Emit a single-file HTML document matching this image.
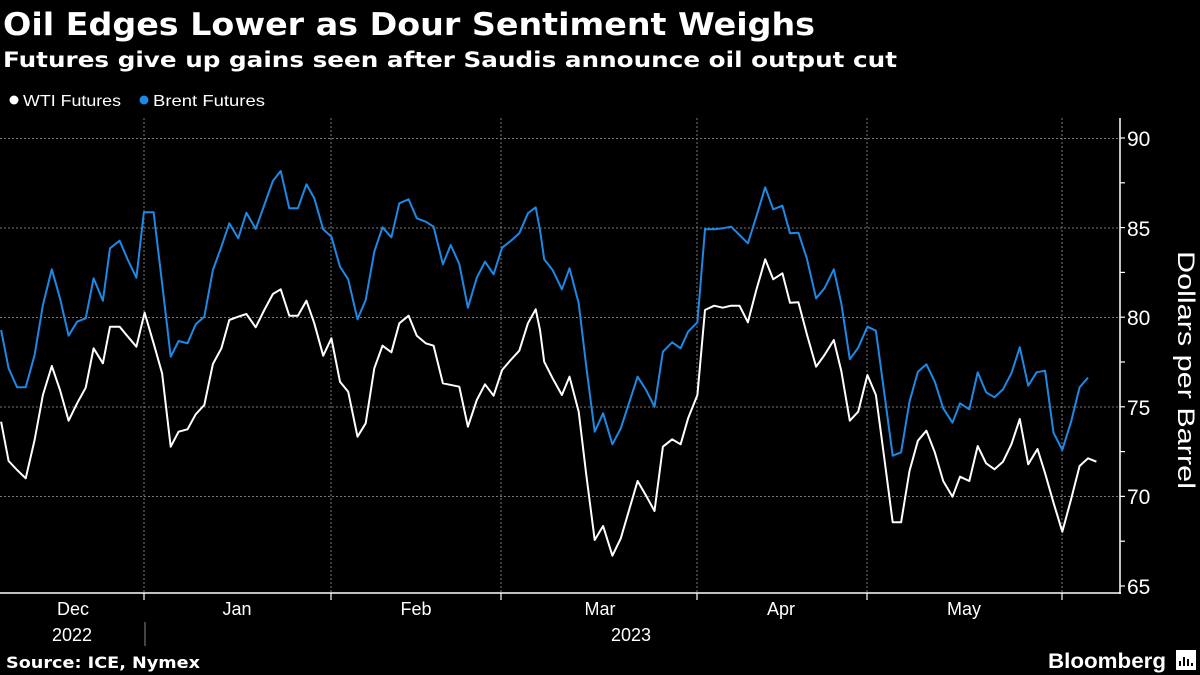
<!DOCTYPE html>
<html><head><meta charset="utf-8"><style>
body{margin:0;background:#000;width:1200px;height:675px;overflow:hidden;font-family:"Liberation Sans",sans-serif;color:#fff}
</style></head><body>
<svg id="s" width="1200" height="675" xmlns="http://www.w3.org/2000/svg" style="position:absolute;left:0;top:0">
<text x="3" y="35" font-size="31" font-weight="bold" fill="#fff" font-family="DejaVu Sans, sans-serif" textLength="812" lengthAdjust="spacingAndGlyphs">Oil Edges Lower as Dour Sentiment Weighs</text>
<text x="3" y="67" font-size="21" font-weight="bold" fill="#fff" font-family="DejaVu Sans, sans-serif" textLength="894" lengthAdjust="spacingAndGlyphs">Futures give up gains seen after Saudis announce oil output cut</text>
<circle cx="14" cy="100" r="4.5" fill="#fff"/><text x="23" y="106" font-size="16" fill="#fff" textLength="98" lengthAdjust="spacingAndGlyphs">WTI Futures</text>
<circle cx="144" cy="100" r="4.5" fill="#1e88e5"/><text x="153" y="106" font-size="16" fill="#fff" textLength="112" lengthAdjust="spacingAndGlyphs">Brent Futures</text>
<g id="grid" stroke="#777" stroke-width="1" stroke-dasharray="2,2"></g>
<line x1="0" y1="593" x2="1121" y2="593" stroke="#fff" stroke-width="1.5"/>
<line x1="1120" y1="118" x2="1120" y2="594" stroke="#fff" stroke-width="1.5"/>
<g id="ticks" stroke="#fff" stroke-width="1.2"></g>
<g font-size="21" fill="#fff">
<text x="1127" y="146">90</text><text x="1127" y="236">85</text><text x="1127" y="325">80</text><text x="1127" y="415">75</text><text x="1127" y="504">70</text><text x="1127" y="594">65</text>
</g>
<text transform="translate(1178,370) rotate(90)" text-anchor="middle" font-size="24" fill="#fff" textLength="238" lengthAdjust="spacingAndGlyphs">Dollars per Barrel</text>
<g font-size="18" fill="#fff" text-anchor="middle">
<text x="73" y="615">Dec</text><text x="237" y="615">Jan</text><text x="416" y="615">Feb</text><text x="600" y="615">Mar</text><text x="781" y="615">Apr</text><text x="964" y="615">May</text>
<text x="72" y="641">2022</text><text x="631" y="641">2023</text>
</g>
<line x1="145" y1="622" x2="145" y2="646" stroke="#888" stroke-width="1"/>
<polyline id="b" fill="none" stroke="#1e88e5" stroke-width="2" stroke-linejoin="round"/>
<polyline id="w" fill="none" stroke="#fff" stroke-width="2" stroke-linejoin="round"/>
<text x="6" y="668" font-size="16" font-weight="bold" fill="#fff" font-family="DejaVu Sans, sans-serif" textLength="194" lengthAdjust="spacingAndGlyphs">Source: ICE, Nymex</text>
<text x="1048" y="668" font-size="21" font-weight="bold" fill="#fff" textLength="118" lengthAdjust="spacingAndGlyphs">Bloomberg</text>
<rect x="1176" y="650" width="20" height="20" fill="#fff"/>
<path d="M1180 666v-5M1184 666v-9M1188 666v-7M1192 666v-3" stroke="#000" stroke-width="2"/>
</svg>
<script>
var ns="http://www.w3.org/2000/svg";
function el(g,t,a){var e=document.createElementNS(ns,t);for(var k in a)e.setAttribute(k,a[k]);document.getElementById(g).appendChild(e);}
[138.5,228,317.5,407,496.5].forEach(function(y){el("grid","line",{x1:0,y1:y,x2:1120,y2:y});});
[144,331,501,697,867,1062].forEach(function(x){el("grid","line",{x1:x,y1:118,x2:x,y2:593});el("ticks","line",{x1:x,y1:593,x2:x,y2:600});});
for(var v=65;v<=90;v+=2.5){var y=586-(v-65)*17.92;el("ticks","line",{x1:1120,y1:y,x2:1125,y2:y});}
var b1=[3,660,24,775,48,832,72,832,97,735,120,585,145,478,168,565,192,677,216,635,240,625,262,505,288,572,308,415,335,392,358,450,382,503,403,307,430,307,454,520,478,740,500,693,525,700,548,643,572,620,596,480,620,410,642,340,667,385,690,308,716,357,740,285,764,213,786,183,810,295,834,295,858,223,880,265,905,358,928,380,952,470,975,508,1001,628,1024,570,1048,425,1071,352,1096,382,1118,280,1144,268,1167,325,1192,335,1214,350,1240,463,1262,405,1286,462,1310,593,1335,503,1358,455,1382,493,1406,413,1430,393,1454,370,1478,310,1500,292];
var w1=[3,935,24,1053,48,1080,72,1105,97,990,120,855,145,768,168,840,192,932,216,880,240,833,262,715,288,760,308,650,335,650,358,680,382,710,405,608,430,700,454,790,478,1010,500,965,525,958,548,913,572,885,596,762,620,715,642,630,667,620,690,612,716,652,740,600,764,552,786,538,810,617,834,617,858,572,880,640,905,737,928,685,952,815,975,845,1001,980,1024,940,1048,775,1071,707,1096,727,1118,640,1144,617,1167,677,1192,700,1214,707,1240,820,1286,830,1310,950,1335,870,1358,823,1382,857,1406,780,1430,750,1454,722,1478,640,1500,598];
var b2=[0,360,10,448,30,480,52,538,70,475,92,580,110,770,130,965,150,910,172,1003,192,955,232,800,252,840,272,890,292,725,314,697,334,715,352,665,374,637,392,358,414,358,434,355,454,350,474,375,494,400,514,320,535,232,554,298,576,287,594,370,614,368,634,445,656,565,676,535,698,478,716,580,736,748,756,713,778,650,798,662,818,850,838,1037,858,1027,878,875,898,785,918,763,938,815,958,895,980,938,998,880,1020,898,1040,787,1060,847,1080,862,1100,838,1120,790,1140,712,1160,827,1180,787,1200,782,1220,968,1241,1020,1262,935,1282,832,1302,803];
var w2=[0,660,10,755,30,805,52,855,70,800,92,905,110,1095,130,1290,150,1248,172,1337,192,1285,232,1113,252,1157,272,1203,292,1010,314,988,334,1003,352,925,374,855,392,600,414,587,434,593,454,587,474,587,494,637,514,540,535,448,554,508,576,490,594,578,614,577,634,672,656,770,676,735,698,690,716,783,736,932,756,905,778,795,798,855,818,1045,838,1237,858,1237,878,1083,898,992,918,962,938,1027,958,1113,980,1160,998,1100,1020,1113,1040,1008,1060,1060,1080,1078,1100,1055,1120,1003,1140,927,1160,1063,1182,1017,1200,1090,1220,1178,1241,1265,1262,1168,1282,1068,1302,1045,1322,1055];
function pts(a,c){var o=[];for(var i=0;i<a.length;i+=2){o.push(c(a[i]).toFixed(1)+","+(110+a[i+1]/3).toFixed(1));}return o;}
function f1(X){return X/2.8;} function f2(X){return 540+X/2.376;}
document.getElementById("b").setAttribute("points",pts(b1,f1).concat(pts(b2,f2)).join(" "));
document.getElementById("w").setAttribute("points",pts(w1,f1).concat(pts(w2,f2)).join(" "));
</script>
</body></html>
